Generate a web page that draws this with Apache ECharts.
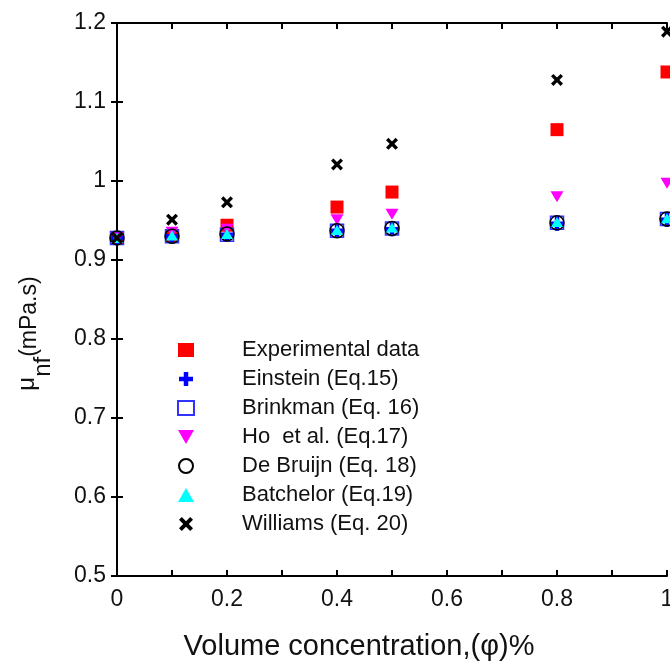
<!DOCTYPE html>
<html>
<head>
<meta charset="utf-8">
<script src="https://cdn.jsdelivr.net/npm/echarts@6/dist/echarts.min.js"></script>
<style>
  html, body { margin: 0; padding: 0; background: #fff; }
  #chart { width: 670px; height: 661px; }
</style>
</head>
<body>
<div id="chart"></div>
<script>
// volume concentration (%)
var phi = [0, 0.1, 0.2, 0.4, 0.5, 0.8, 1.0];

// viscosity mu_nf (mPa.s)
var experimental = [0.928, 0.930, 0.944, 0.967, 0.986, 1.065, 1.138];
var einstein     = [0.928, 0.930, 0.932, 0.937, 0.939, 0.946, 0.951];
var brinkman     = [0.928, 0.930, 0.932, 0.937, 0.940, 0.947, 0.952];
var hoEtAl       = [0.928, 0.935, 0.939, 0.951, 0.958, 0.980, 0.997];
var deBruijn     = [0.928, 0.930, 0.933, 0.937, 0.940, 0.947, 0.952];
var batchelor    = [0.928, 0.931, 0.933, 0.938, 0.941, 0.948, 0.953];
var williams     = [0.928, 0.951, 0.973, 1.021, 1.047, 1.128, 1.189];

var xTicks = ['0', '0.2', '0.4', '0.6', '0.8', '1'];

var plusPath = 'path://M3.4,0H6.6V3.4H10V6.6H6.6V10H3.4V6.6H0V3.4H3.4Z';
var crossPath = 'path://M0,2L2,0L5,3L8,0L10,2L7,5L10,8L8,10L5,7L2,10L0,8L3,5Z';
var downTri = 'path://M0,0L10,0L5,8.7Z';

function pts(arr) {
    return arr.map(function (v, i) { return [phi[i], v]; });
}

var chart = echarts.init(document.getElementById('chart'));
var font = '"Liberation Sans", Arial, sans-serif';

var option = {
    animation: false,
    textStyle: { fontFamily: font },
    grid: { left: 117, right: 3, top: 23, bottom: 85, containLabel: false, outerBoundsMode: 'none' },
    legend: {
        orient: 'vertical',
        left: 172,
        top: 333,
        itemWidth: 16,
        itemHeight: 14,
        itemGap: 5,
        textStyle: { fontSize: 22, color: '#111', fontFamily: font, lineHeight: 24, padding: [0, 0, 0, 43] },
        data: ['Experimental data', 'Einstein (Eq.15)', 'Brinkman (Eq. 16)', 'Ho  et al. (Eq.17)',
               'De Bruijn (Eq. 18)', 'Batchelor (Eq.19)', 'Williams (Eq. 20)']
    },
    xAxis: [{
        type: 'value', min: 0, max: 1, interval: 0.1,
        name: 'Volume concentration,(\u03c6)%',
        nameLocation: 'middle', nameGap: 56,
        nameTextStyle: { fontSize: 29, color: '#111', padding: [0, 66, 0, 0] },
        axisLine: { lineStyle: { color: '#000', width: 2 } },
        axisTick: { inside: true, length: 6, lineStyle: { width: 2 } },
        axisLabel: {
            fontSize: 23, color: '#111', margin: 12,
            formatter: function (v) {
                var k = Math.round(v * 10);
                return k % 2 === 0 ? xTicks[k / 2] : '';
            }
        },
        splitLine: { show: false }
    }, {
        type: 'value', min: 0, max: 1, interval: 0.1, position: 'top',
        axisLine: { lineStyle: { color: '#000', width: 2 } },
        axisTick: { inside: true, length: 6, lineStyle: { width: 2 } },
        axisLabel: { show: false },
        splitLine: { show: false }
    }],
    yAxis: [{
        type: 'value', min: 0.5, max: 1.2, interval: 0.1,
        name: '{mu|\u03bc}{sub|nf}{unit|(mPa.s)}',
        nameLocation: 'middle', nameGap: 62,
        nameTextStyle: {
            color: '#111',
            padding: [0, 68, 0, 0],
            rich: {
                mu: { fontSize: 24, color: '#111', lineHeight: 56, verticalAlign: 'middle', fontFamily: font },
                sub: { fontSize: 24, color: '#111', lineHeight: 56, verticalAlign: 'bottom', fontFamily: font },
                unit: { fontSize: 23, color: '#111', lineHeight: 56, verticalAlign: 'middle', fontFamily: font, padding: [6, 0, 0, 0] }
            }
        },
        axisLine: { lineStyle: { color: '#000', width: 2 } },
        axisTick: { inside: true, length: 6, lineStyle: { width: 2 } },
        axisLabel: {
            fontSize: 23, color: '#111', margin: 11,
            formatter: function (v) { return String(Math.round(v * 10) / 10); }
        },
        splitLine: { show: false }
    }, {
        type: 'value', min: 0.5, max: 1.2, interval: 0.1, position: 'right',
        axisLine: { lineStyle: { color: '#000', width: 2 } },
        axisTick: { inside: true, length: 6, lineStyle: { width: 2 } },
        axisLabel: { show: false },
        splitLine: { show: false }
    }],
    series: [{
        name: 'Experimental data', type: 'scatter', data: pts(experimental),
        symbol: 'rect', symbolSize: 13,
        itemStyle: { color: '#ff0000', opacity: 1 }
    }, {
        name: 'Einstein (Eq.15)', type: 'scatter', data: pts(einstein),
        symbol: plusPath, symbolSize: 14,
        itemStyle: { color: '#0000ff', opacity: 1 }
    }, {
        name: 'Brinkman (Eq. 16)', type: 'scatter', data: pts(brinkman),
        symbol: 'rect', symbolSize: 13,
        itemStyle: { color: 'rgba(255,255,255,0)', borderColor: '#3333ff', borderWidth: 1.5, opacity: 1 }
    }, {
        name: 'Ho  et al. (Eq.17)', type: 'scatter', data: pts(hoEtAl),
        symbol: downTri, symbolSize: [13, 11],
        itemStyle: { color: '#ff00ff', opacity: 1 }
    }, {
        name: 'De Bruijn (Eq. 18)', type: 'scatter', data: pts(deBruijn),
        symbol: 'circle', symbolSize: 14,
        itemStyle: { color: 'rgba(255,255,255,0)', borderColor: '#000', borderWidth: 1.5, opacity: 1 }
    }, {
        name: 'Batchelor (Eq.19)', type: 'scatter', data: pts(batchelor),
        symbol: 'triangle', symbolSize: [12, 10],
        itemStyle: { color: '#00ffff', opacity: 1 }
    }, {
        name: 'Williams (Eq. 20)', type: 'scatter', data: pts(williams),
        symbol: crossPath, symbolSize: 12,
        itemStyle: { color: '#000', opacity: 1 }
    }]
};

option && chart.setOption(option);
</script>
</body>
</html>
